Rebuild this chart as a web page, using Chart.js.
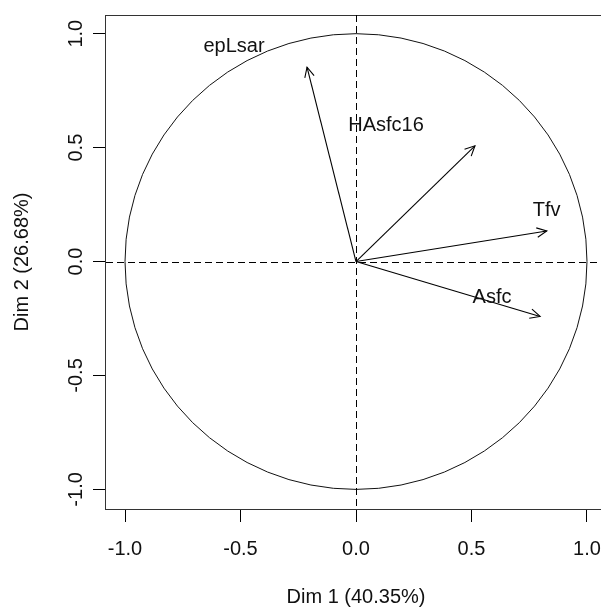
<!DOCTYPE html>
<html>
<head>
<meta charset="utf-8">
<script src="https://cdn.jsdelivr.net/npm/chart.js@4/dist/chart.umd.min.js"></script>
<style>
html,body{margin:0;padding:0;background:#fff;overflow:hidden;width:601px;height:608px;}
#wrap{position:absolute;left:0;top:0;width:660px;height:608px;}
</style>
</head>
<body>
<div id="wrap"><canvas id="c" width="660" height="608"></canvas></div>
<script>
// ---- data ----
const varNames = ['epLsar', 'HAsfc16', 'Tfv', 'Asfc'];
const dim1 = [-0.212, 0.515, 0.826, 0.797];
const dim2 = [0.853, 0.508, 0.134, -0.241];
const labelDim1 = [-0.528, 0.130, 0.825, 0.589];
const labelDim2 = [0.946, 0.598, 0.223, -0.158];
const xTicks = [-1.0, -0.5, 0.0, 0.5, 1.0];
const yTicks = [-1.0, -0.5, 0.0, 0.5, 1.0];
const xTitle = 'Dim 1 (40.35%)';
const yTitle = 'Dim 2 (26.68%)';

const FONT = '"Liberation Sans", Arial, sans-serif';
const FS = 20;
const INK = '#111';

const datasets = varNames.map((n, i) => ({
  label: n,
  data: [{x: 0, y: 0}, {x: dim1[i], y: dim2[i]}],
  borderColor: '#000',
  borderWidth: 1.1,
  pointRadius: 0,
  tension: 0,
  fill: false
}));

const decor = {
  id: 'decor',
  beforeDatasetsDraw(chart) {
    const {ctx, chartArea: a, scales: {x, y}} = chart;
    const x0 = x.getPixelForValue(0), y0 = y.getPixelForValue(0);
    ctx.save();
    // box
    ctx.strokeStyle = '#333';
    ctx.lineWidth = 1;
    ctx.strokeRect(Math.round(a.left) - 0.5, Math.round(a.top) + 0.5, Math.round(a.right - a.left), Math.round(a.bottom - a.top));
    // unit circle
    const rx = x.getPixelForValue(1) - x0, ry = y0 - y.getPixelForValue(1);
    ctx.strokeStyle = '#111';
    ctx.beginPath();
    ctx.ellipse(x0, y0, rx, ry, 0, 0, Math.PI * 2);
    ctx.stroke();
    // dashed axes
    ctx.setLineDash([7, 4]);
    ctx.strokeStyle = '#000';
    ctx.beginPath();
    ctx.moveTo(Math.round(x0) + 0.5, a.top);
    ctx.lineTo(Math.round(x0) + 0.5, a.bottom);
    ctx.moveTo(a.left, Math.round(y0) + 0.5);
    ctx.lineTo(a.right, Math.round(y0) + 0.5);
    ctx.stroke();
    ctx.restore();
  },
  afterDatasetsDraw(chart) {
    const {ctx, scales: {x, y}} = chart;
    ctx.save();
    ctx.strokeStyle = '#000';
    ctx.lineWidth = 1.1;
    chart.data.datasets.forEach((ds, i) => {
      const pts = chart.getDatasetMeta(i).data;
      const p0 = pts[0], p1 = pts[1];
      const ang = Math.atan2(p1.y - p0.y, p1.x - p0.x);
      const L = 11, th = Math.PI / 7;
      ctx.beginPath();
      ctx.moveTo(p1.x - L * Math.cos(ang - th), p1.y - L * Math.sin(ang - th));
      ctx.lineTo(p1.x, p1.y);
      ctx.lineTo(p1.x - L * Math.cos(ang + th), p1.y - L * Math.sin(ang + th));
      ctx.stroke();
    });
    // variable labels
    ctx.fillStyle = INK;
    ctx.font = FS + 'px ' + FONT;
    ctx.textAlign = 'center';
    ctx.textBaseline = 'middle';
    varNames.forEach((n, i) => {
      ctx.fillText(n, x.getPixelForValue(labelDim1[i]), y.getPixelForValue(labelDim2[i]));
    });
    // y tick labels (vertical, as in R)
    yTicks.forEach(v => {
      ctx.save();
      ctx.translate(82, y.getPixelForValue(v));
      ctx.rotate(-Math.PI / 2);
      ctx.textBaseline = 'alphabetic';
      ctx.fillText(v.toFixed(1), 0, 0);
      ctx.restore();
    });
    ctx.restore();
  }
};

new Chart(document.getElementById('c'), {
  type: 'line',
  data: {datasets},
  options: {
    responsive: false,
    animation: false,
    events: [],
    layout: {padding: {top: 14, right: 54, left: 0, bottom: 0}},
    plugins: {legend: {display: false}, tooltip: {enabled: false}},
    scales: {
      x: {
        type: 'linear',
        min: -1.0823, max: 1.0823,
        afterBuildTicks: ax => { ax.ticks = xTicks.map(v => ({value: v})); },
        afterFit: ax => { ax.height = 99; },
        border: {display: false},
        grid: {drawOnChartArea: false, drawTicks: true, tickLength: 13, color: '#000', lineWidth: 1},
        ticks: {autoSkip: false, maxRotation: 0, padding: 15, color: INK,
                font: {family: FONT, size: FS}, callback: v => Number(v).toFixed(1)},
        title: {display: true, text: xTitle, color: INK, font: {family: FONT, size: FS, lineHeight: 1}, padding: {top: 0, bottom: 1}}
      },
      y: {
        type: 'linear',
        min: -1.086, max: 1.082,
        afterBuildTicks: ax => { ax.ticks = yTicks.map(v => ({value: v})); },
        afterFit: ax => { ax.width = 106; },
        border: {display: false},
        grid: {drawOnChartArea: false, drawTicks: true, tickLength: 13, color: '#000', lineWidth: 1},
        ticks: {autoSkip: false, color: 'rgba(0,0,0,0)', font: {family: FONT, size: FS}, callback: v => Number(v).toFixed(1)},
        title: {display: true, text: yTitle, color: INK, font: {family: FONT, size: FS, lineHeight: 1}, padding: {top: 12.5, bottom: 0}}
      }
    }
  },
  plugins: [decor]
});
</script>
</body>
</html>
